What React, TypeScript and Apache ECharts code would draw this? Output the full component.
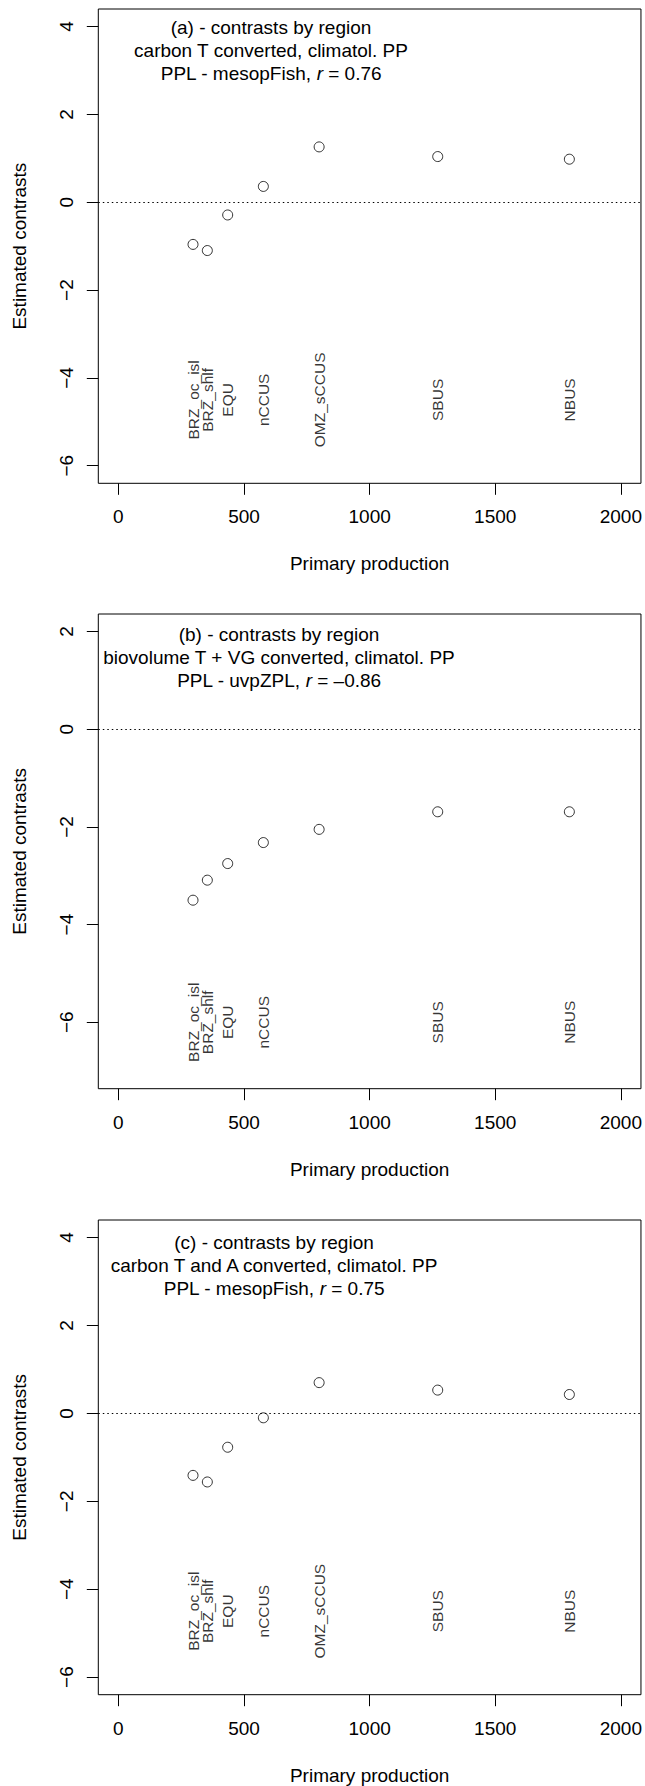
import React, { useEffect, useRef } from "react";
import * as echarts from "echarts";

// ---- data ----
const ppX = [297, 354, 435, 577, 799, 1271, 1795];
const regionsAC = ["BRZ_oc_isl", "BRZ_shlf", "EQU", "nCCUS", "OMZ_sCCUS", "SBUS", "NBUS"];
const regionsB = ["BRZ_oc_isl", "BRZ_shlf", "EQU", "nCCUS", "", "SBUS", "NBUS"];
const contrastsA = [-0.96, -1.1, -0.29, 0.36, 1.26, 1.04, 0.98];
const contrastsB = [-3.5, -3.09, -2.75, -2.32, -2.05, -1.69, -1.69];
const contrastsC = [-1.41, -1.56, -0.77, -0.1, 0.7, 0.53, 0.43];
const xTicks = [0, 500, 1000, 1500, 2000];
const yTicksAC = [-6, -4, -2, 0, 2, 4];
const yTicksB = [-6, -4, -2, 0, 2];
const titleA = ["(a) - contrasts by region", "carbon T converted, climatol. PP", "PPL - mesopFish, ", " = 0.76"];
const titleB = ["(b) - contrasts by region", "biovolume T + VG converted, climatol. PP", "PPL - uvpZPL, ", " = \u20130.86"];
const titleC = ["(c) - contrasts by region", "carbon T and A converted, climatol. PP", "PPL - mesopFish, ", " = 0.75"];

const FONT = "'Liberation Sans', Arial, Helvetica, sans-serif";

const panels = [
  { top: 9, height: 474.3, ymin: -6.4, ymax: 4.4, yTicks: yTicksAC, values: contrastsA, labels: regionsAC, labelY: -4.5, title: titleA, tx: 271, ty: 27 },
  { top: 614, height: 474.7, ymin: -7.36, ymax: 2.36, yTicks: yTicksB, values: contrastsB, labels: regionsB, labelY: -6, title: titleB, tx: 279, ty: 634.5 },
  { top: 1220, height: 474.7, ymin: -6.4, ymax: 4.4, yTicks: yTicksAC, values: contrastsC, labels: regionsAC, labelY: -4.5, title: titleC, tx: 274, ty: 1242 },
];

export default function App() {
  const ref = useRef<HTMLDivElement>(null);
  useEffect(() => {
    if (!ref.current) return;
    const chart = echarts.init(ref.current, null, { renderer: "svg" });
    const grid: any[] = [];
    const xAxis: any[] = [];
    const yAxis: any[] = [];
    const series: any[] = [];
    const graphic: any[] = [];
    panels.forEach((p, i) => {
      grid.push({ left: 98.3, width: 544, top: p.top, height: p.height, show: true, borderColor: "#000", borderWidth: 1, backgroundColor: "transparent" });
      xAxis.push({
        gridIndex: i, type: "value", min: -80, max: 2080,
        splitLine: { show: false },
        axisLine: { show: false, onZero: false },
        axisTick: { show: true, length: 11.5, inside: false, customValues: xTicks, lineStyle: { color: "#000", width: 1 } },
        axisLabel: { customValues: xTicks, margin: 24, fontSize: 19, color: "#000", fontFamily: FONT, formatter: (v: number) => String(v) },
        name: "Primary production", nameLocation: "middle", nameGap: 71,
        nameTextStyle: { fontSize: 19, color: "#000", fontFamily: FONT },
      });
      yAxis.push({
        gridIndex: i, type: "value", min: p.ymin, max: p.ymax,
        splitLine: { show: false },
        axisLine: { show: false, onZero: false },
        axisTick: { show: true, length: 11.5, inside: false, customValues: p.yTicks, lineStyle: { color: "#000", width: 1 } },
        axisLabel: { customValues: p.yTicks, rotate: 90, margin: 22, fontSize: 19, color: "#000", fontFamily: FONT, formatter: (v: number) => (v < 0 ? "\u2212" + Math.abs(v) : String(v)) },
        name: "Estimated contrasts", nameLocation: "middle", nameGap: 69, nameRotate: 90,
        nameTextStyle: { fontSize: 19, color: "#000", fontFamily: FONT },
      });
      series.push({
        type: "scatter", xAxisIndex: i, yAxisIndex: i,
        data: ppX.map((x, k) => [x, p.values[k]]),
        symbol: "circle", symbolSize: 10,
        itemStyle: { color: "rgba(0,0,0,0)", borderColor: "#000", borderWidth: 1 },
        silent: true,
        markLine: {
          silent: true, symbol: ["none", "none"], label: { show: false },
          lineStyle: { type: [1.5, 3], color: "#000", width: 1 },
          data: [{ yAxis: 0 }],
        },
      });
      series.push({
        type: "scatter", xAxisIndex: i, yAxisIndex: i,
        data: ppX.map((x, k) => ({ value: [x, p.labelY], name: p.labels[k] })).filter((d) => d.name !== ""),
        symbolSize: 0, silent: true,
        label: { show: true, position: "inside", rotate: 90, formatter: "{b}", fontSize: 15.5, color: "#000", fontFamily: FONT },
      });
      const base = { fill: "#000", fontSize: 19, fontFamily: FONT, align: "center", verticalAlign: "middle" };
      graphic.push({ type: "text", x: p.tx, y: p.ty, style: { ...base, text: p.title[0] } });
      graphic.push({ type: "text", x: p.tx, y: p.ty + 23, style: { ...base, text: p.title[1] } });
      graphic.push({
        type: "text", x: p.tx, y: p.ty + 46,
        style: {
          ...base,
          text: p.title[2] + "{i|r}" + p.title[3],
          rich: { i: { fontStyle: "italic", fontSize: 19, fontFamily: FONT, fill: "#000" } },
        },
      });
    });
    chart.setOption({
      animation: false,
      textStyle: { fontFamily: FONT },
      grid, xAxis, yAxis, series, graphic,
    });
    return () => chart.dispose();
  }, []);
  return <div ref={ref} style={{ position: "absolute", left: 0, top: 0, width: 645, height: 1786, background: "#fff" }} />;
}
